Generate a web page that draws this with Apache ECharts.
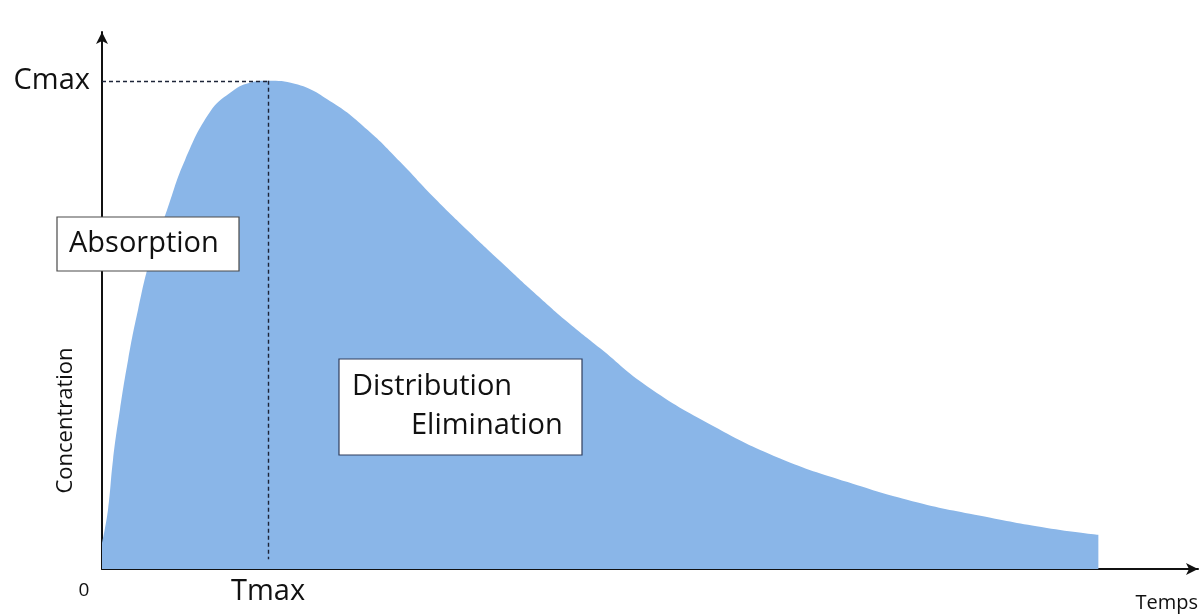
<!DOCTYPE html>
<html>
<head>
<meta charset="utf-8">
<script src="https://cdn.jsdelivr.net/npm/echarts@6/dist/echarts.min.js"></script>
<style>
html,body{margin:0;padding:0;background:#fff;}
#chart{width:1203px;height:616px;}
</style>
</head>
<body>
<div id="chart"></div>
<script>
// Time (arbitrary units) and concentration (% of Cmax)
var times = [0, 0.36, 0.66, 1.08, 1.57, 2.17, 2.89, 3.91, 5.0, 6.5, 7.7, 8.9, 10, 11.6, 13.9, 16.0, 17.95, 19.9, 22.0, 24.0, 26.0, 28.0, 30.0, 32.8, 36.8, 40.8, 44.9, 48.8, 52.9, 56.9, 60];
var concentration = [5.3, 12.1, 22.3, 32.6, 42.8, 53.1, 63.3, 73.5, 83.8, 93.6, 97.5, 99.6, 100, 99.4, 95.5, 89.9, 83.4, 76.4, 69.4, 63.0, 56.7, 50.7, 45.2, 37.5, 29.3, 22.7, 17.8, 13.9, 10.9, 8.4, 7.0];
var TMAX = 10;
var CMAX = 100;
var X_MAX = 66;
var Y_MAX = 110;
var xLabels = {0: '0', 10: 'Tmax'};
var yLabels = {100: 'Cmax'};
var phaseLabels = ['Absorption', 'Distribution', 'Elimination'];
var axisNames = ['Temps', 'Concentration'];

var FONT = '"Open Sans"';
var chart = echarts.init(document.getElementById('chart'));
var seriesData = times.map(function (t, i) { return [t, concentration[i]]; });

chart.setOption({
  animation: false,
  backgroundColor: '#ffffff',
  grid: {left: 102, right: 5, top: 32, bottom: 47, containLabel: false, outerBoundsMode: 'none'},
  xAxis: {
    type: 'value', min: 0, max: X_MAX, interval: 10,
    name: axisNames[0], nameLocation: 'end', nameGap: 0, nameMoveOverlap: false,
    nameTextStyle: {fontFamily: FONT, fontSize: 20, fontWeight: 500, color: '#111', align: 'right', verticalAlign: 'top', padding: [24, 0, 0, 0]},
    axisLine: {show: true, symbol: ['none', 'arrow'], symbolSize: [9, 12], lineStyle: {color: '#111', width: 2}},
    axisTick: {show: false},
    splitLine: {show: false},
    axisLabel: {
      showMinLabel: true, showMaxLabel: false, margin: 8,
      formatter: function (v) {
        if (v === 0) return '{z|' + xLabels[0] + '}';
        if (v === TMAX) return '{t|' + xLabels[10] + '}';
        return '';
      },
      rich: {
        z: {fontFamily: FONT, fontSize: 19, color: '#111', padding: [4, 36, 0, 0]},
        t: {fontFamily: FONT, fontSize: 29, color: '#111'}
      }
    }
  },
  yAxis: {
    type: 'value', min: 0, max: Y_MAX, interval: 10,
    name: axisNames[1], nameLocation: 'middle', nameRotate: 90, nameGap: 25, nameMoveOverlap: false,
    nameTextStyle: {fontFamily: FONT, fontSize: 22, color: '#111', padding: [0, 240, 0, 0]},
    axisLine: {show: true, symbol: ['none', 'arrow'], symbolSize: [9, 12], lineStyle: {color: '#111', width: 2}},
    axisTick: {show: false},
    splitLine: {show: false},
    axisLabel: {
      margin: 12, fontFamily: FONT, fontSize: 29, color: '#111',
      formatter: function (v) { return yLabels[v] || ''; }
    }
  },
  series: [{
    type: 'line',
    data: seriesData,
    smooth: 0.45,
    showSymbol: false,
    symbol: 'none',
    lineStyle: {width: 0},
    areaStyle: {color: '#8AB6E8', opacity: 1},
    z: 2,
    markLine: {
      silent: true, symbol: 'none', animation: false,
      label: {show: false},
      lineStyle: {color: '#1d2438', type: [4, 3], width: 1.4},
      data: [
        [{coord: [0, CMAX]}, {coord: [TMAX, CMAX]}],
        [{coord: [TMAX, CMAX]}, {coord: [TMAX, 2]}]
      ]
    }
  }],
  graphic: [
    {type: 'rect', z: 100, shape: {x: 57, y: 217, width: 182, height: 54}, style: {fill: '#ffffff', stroke: '#4a4a4a', lineWidth: 1.2}},
    {type: 'text', z: 101, x: 69, y: 244, style: {text: phaseLabels[0], font: '29px ' + FONT, fill: '#111', textAlign: 'left', textVerticalAlign: 'middle'}},
    {type: 'rect', z: 100, shape: {x: 339, y: 359, width: 243, height: 96}, style: {fill: '#ffffff', stroke: '#2f3d5c', lineWidth: 1.2}},
    {type: 'text', z: 101, x: 352, y: 387, style: {text: phaseLabels[1], font: '29px ' + FONT, fill: '#111', textAlign: 'left', textVerticalAlign: 'middle'}},
    {type: 'text', z: 101, x: 411, y: 426, style: {text: phaseLabels[2], font: '29px ' + FONT, fill: '#111', textAlign: 'left', textVerticalAlign: 'middle'}}
  ]
});
</script>
</body>
</html>
